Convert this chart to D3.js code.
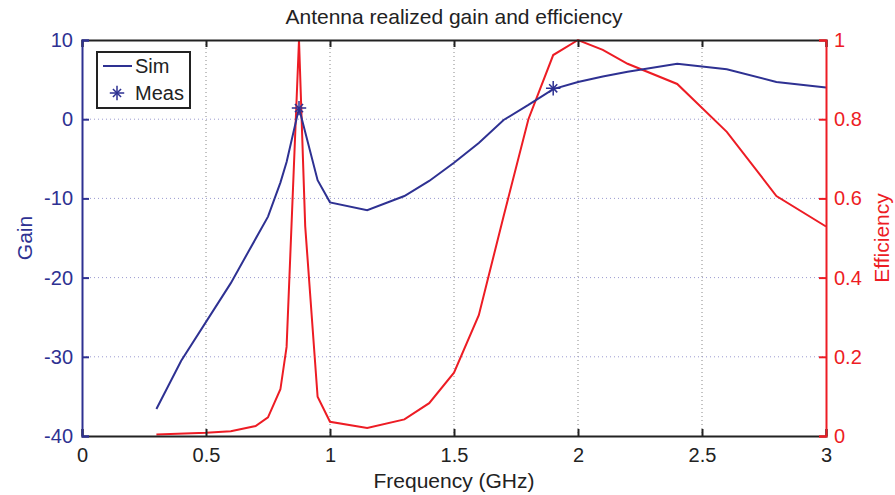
<!DOCTYPE html>
<html>
<head>
<meta charset="utf-8">
<script src="https://cdn.jsdelivr.net/npm/d3@7"></script>
<style>
  body { margin: 0; background: #fff; }
  text { font-family: "Liberation Sans", Arial, Helvetica, sans-serif; }
</style>
</head>
<body>
<svg width="895" height="495"></svg>
<script>
// Dữ liệu mô phỏng (Sim) - độ lợi
const simFreq = [0.3, 0.4, 0.6, 0.75, 0.8, 0.825, 0.875, 0.95, 1.0, 1.15, 1.3, 1.4, 1.5, 1.6, 1.7, 1.8, 1.9, 2.0, 2.1, 2.2, 2.4, 2.6, 2.8, 3.0];
const simGain = [-36.6, -30.5, -20.7, -12.3, -8.0, -5.4, 1.4, -7.7, -10.5, -11.5, -9.7, -7.8, -5.5, -3.0, -0.1, 1.8, 3.8, 4.7, 5.4, 6.0, 7.0, 6.3, 4.7, 4.0];

// Dữ liệu đo (Meas)
const measFreq = [0.875, 1.9];
const measGain = [1.4, 3.9];

// Hiệu suất
const effFreq = [0.3, 0.5, 0.6, 0.7, 0.75, 0.8, 0.825, 0.875, 0.9, 0.95, 1.0, 1.15, 1.3, 1.4, 1.5, 1.6, 1.7, 1.8, 1.9, 2.0, 2.1, 2.2, 2.4, 2.6, 2.8, 3.0];
const effVal  = [0.004, 0.008, 0.012, 0.025, 0.047, 0.118, 0.225, 1.0, 0.53, 0.099, 0.036, 0.02, 0.042, 0.083, 0.16, 0.305, 0.555, 0.8, 0.962, 1.0, 0.975, 0.94, 0.889, 0.768, 0.606, 0.529];

// Nhãn trục
const xTicks = [0, 0.5, 1, 1.5, 2, 2.5, 3];
const gainTicks = [-40, -30, -20, -10, 0, 10];
const effTicks = [0, 0.2, 0.4, 0.6, 0.8, 1];

const blue = "#2e3192";
const red = "#ed1c24";
const fs = "20px";
const fsLabel = "21px";

const margin = { top: 40, right: 70, bottom: 59, left: 82 };
const width = 826 - margin.left;
const height = 436 - margin.top;

const svg = d3.select("svg")
    .append("g")
    .attr("transform", `translate(${margin.left},${margin.top})`);

const x = d3.scaleLinear().domain([0, 3]).range([0, width]);
const yG = d3.scaleLinear().domain([-40, 10]).range([height, 0]);
const yE = d3.scaleLinear().domain([0, 1]).range([height, 0]);

// Lưới
svg.append("g")
    .selectAll("line")
    .data(xTicks.slice(1, -1))
    .enter().append("line")
    .attr("x1", d => x(d)).attr("x2", d => x(d))
    .attr("y1", 0).attr("y2", height)
    .attr("stroke", "#888").attr("stroke-width", 1)
    .attr("stroke-dasharray", "1,3");

svg.append("g")
    .selectAll("line")
    .data(gainTicks.slice(1, -1))
    .enter().append("line")
    .attr("x1", 0).attr("x2", width)
    .attr("y1", d => yG(d)).attr("y2", d => yG(d))
    .attr("stroke", "#9a9ad0").attr("stroke-width", 1)
    .attr("stroke-dasharray", "1,3");

// Đường
svg.append("path")
    .datum(effFreq.map((f, i) => [f, effVal[i]]))
    .attr("fill", "none")
    .attr("stroke", red)
    .attr("stroke-width", 2)
    .attr("d", d3.line().x(d => x(d[0])).y(d => yE(d[1])));

svg.append("path")
    .datum(simFreq.map((f, i) => [f, simGain[i]]))
    .attr("fill", "none")
    .attr("stroke", blue)
    .attr("stroke-width", 2)
    .attr("d", d3.line().x(d => x(d[0])).y(d => yG(d[1])));

// Điểm đo (dấu sao)
const star = d3.symbol().type(d3.symbolPlus).size(70);
const star2 = d3.symbol().type(d3.symbolTimes).size(45);
const meas = svg.append("g")
    .selectAll("g")
    .data(measFreq.map((f, i) => [f, measGain[i]]))
    .enter().append("g")
    .attr("transform", d => `translate(${x(d[0])},${yG(d[1])})`);
meas.append("path").attr("d", star).attr("fill", "none").attr("stroke", blue).attr("stroke-width", 1.5);
meas.append("path").attr("d", star2).attr("fill", "none").attr("stroke", blue).attr("stroke-width", 1.5);

// Trục
const axisFont = g => g.selectAll("text").style("font-size", fs)
    .style("font-family", "'Liberation Sans', Arial, sans-serif");
const fmt = d => String(d);

const xAxis = svg.append("g")
    .attr("transform", `translate(0,${height})`)
    .call(d3.axisBottom(x).tickValues(xTicks).tickSize(-7).tickPadding(12).tickFormat(fmt))
    .call(axisFont);
xAxis.select(".domain").attr("stroke", "#222").attr("stroke-width", 2);
xAxis.selectAll(".tick line").attr("stroke", "#222").attr("stroke-width", 2);
xAxis.selectAll("text").attr("fill", "#222");

const topAxis = svg.append("g")
    .call(d3.axisTop(x).tickValues(xTicks).tickSize(-7).tickFormat(""));
topAxis.select(".domain").attr("stroke", "#222").attr("stroke-width", 2);
topAxis.selectAll(".tick line").attr("stroke", "#222").attr("stroke-width", 2);

const leftAxis = svg.append("g")
    .call(d3.axisLeft(yG).tickValues(gainTicks).tickSize(-7).tickPadding(9).tickFormat(fmt))
    .call(axisFont);
leftAxis.select(".domain").attr("stroke", blue).attr("stroke-width", 2);
leftAxis.selectAll(".tick line").attr("stroke", blue).attr("stroke-width", 2);
leftAxis.selectAll("text").attr("fill", blue);

const rightAxis = svg.append("g")
    .attr("transform", `translate(${width},0)`)
    .call(d3.axisRight(yE).tickValues(effTicks).tickSize(-7).tickPadding(8).tickFormat(fmt))
    .call(axisFont);
rightAxis.select(".domain").attr("stroke", red).attr("stroke-width", 2);
rightAxis.selectAll(".tick line").attr("stroke", red).attr("stroke-width", 2);
rightAxis.selectAll("text").attr("fill", red);

// Tiêu đề và nhãn trục
svg.append("text")
    .attr("x", width / 2).attr("y", -16)
    .attr("text-anchor", "middle")
    .style("font-size", fsLabel).attr("fill", "#222")
    .text("Antenna realized gain and efficiency");

svg.append("text")
    .attr("x", width / 2).attr("y", height + 52)
    .attr("text-anchor", "middle")
    .style("font-size", fsLabel).attr("fill", "#222")
    .text("Frequency (GHz)");

svg.append("text")
    .attr("transform", `translate(-50,${height / 2}) rotate(-90)`)
    .attr("text-anchor", "middle")
    .style("font-size", fsLabel).attr("fill", blue)
    .text("Gain");

svg.append("text")
    .attr("transform", `translate(${width + 63},${height / 2}) rotate(-90)`)
    .attr("text-anchor", "middle")
    .style("font-size", fsLabel).attr("fill", red)
    .text("Efficiency");

// Chú thích
const legend = svg.append("g").attr("transform", "translate(15,12)");
legend.append("rect")
    .attr("width", 93).attr("height", 56)
    .attr("fill", "#fff").attr("stroke", "#222").attr("stroke-width", 2);
legend.append("line")
    .attr("x1", 6).attr("x2", 35).attr("y1", 14).attr("y2", 14)
    .attr("stroke", blue).attr("stroke-width", 2);
legend.append("text").attr("x", 38).attr("y", 21)
    .style("font-size", fs).attr("fill", "#222").text("Sim");
const lm = legend.append("g").attr("transform", "translate(20,41)");
lm.append("path").attr("d", star).attr("fill", "none").attr("stroke", blue).attr("stroke-width", 1.5);
lm.append("path").attr("d", star2).attr("fill", "none").attr("stroke", blue).attr("stroke-width", 1.5);
legend.append("text").attr("x", 38).attr("y", 48)
    .style("font-size", fs).attr("fill", "#222").text("Meas");
</script>
</body>
</html>
